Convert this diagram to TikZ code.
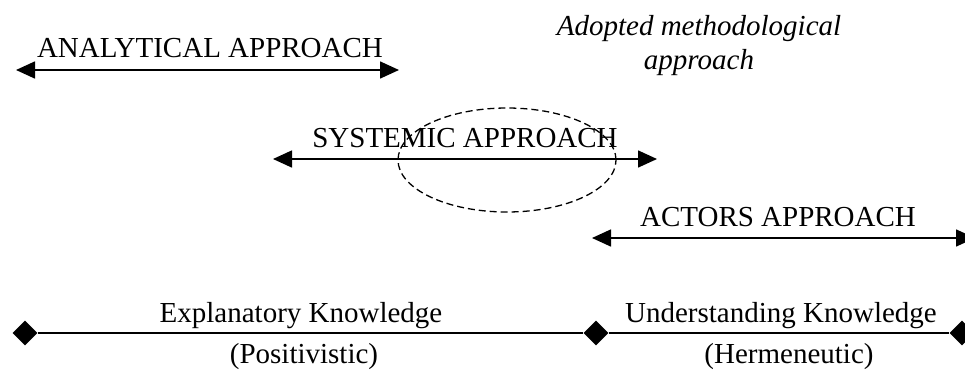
\documentclass[tikz,border=0pt]{standalone}
\usepackage{fontspec}
\setmainfont{Liberation Serif}
\usetikzlibrary{arrows.meta,shapes.geometric}
\begin{document}
\begin{tikzpicture}[x=1pt,y=-1pt,
  lbl/.style={font=\fontsize{29}{34}\selectfont, inner sep=0pt, anchor=base},
  dbl/.style={line width=1.6pt, {Triangle[length=19pt,width=17pt]}-{Triangle[length=19pt,width=17pt]}},
  dia/.style={diamond, fill=black, minimum width=25pt, minimum height=25pt, inner sep=0pt},
  ring/.style={ellipse, draw, dashed, dash pattern=on 7pt off 4pt, line width=1.3pt, minimum width=218pt, minimum height=104pt, inner sep=0pt},
  ]
\useasboundingbox (0,0) rectangle (965,377);
% title
\node[font=\fontsize{29}{34}\selectfont\itshape, align=center, inner sep=0pt] (title) at (699,46) {Adopted methodological\\approach};
% analytical
\node[lbl] (ana) at (210,58) {ANALYTICAL APPROACH};
\coordinate (a1) at (16,70);
\coordinate (a2) at (399,70);
\draw[dbl] (a1) -- (a2);
% systemic
\node[ring] (ell) at (507,160) {};
\node[lbl] (sys) at (465,147) {SYSTEMIC APPROACH};
\coordinate (s1) at (273,159);
\coordinate (s2) at (657,159);
\draw[dbl] (s1) -- (s2);
% actors
\node[lbl] (act) at (778,226) {ACTORS APPROACH};
\coordinate (c1) at (592,238);
\coordinate (c2) at (975,238);
\draw[dbl] (c1) -- (c2);
% knowledge axis
\node[dia] (d1) at (25,333) {};
\node[dia] (d2) at (596,333) {};
\node[dia] (d3) at (962,333) {};
\draw[line width=1.6pt] (d1) -- (d2) -- (d3);
\node[lbl] (exp) at (301,322) {Explanatory Knowledge};
\node[lbl] (pos) at (304,363) {(Positivistic)};
\node[lbl] (und) at (781,322) {Understanding Knowledge};
\node[lbl] (her) at (789,363) {(Hermeneutic)};
\end{tikzpicture}
\end{document}
